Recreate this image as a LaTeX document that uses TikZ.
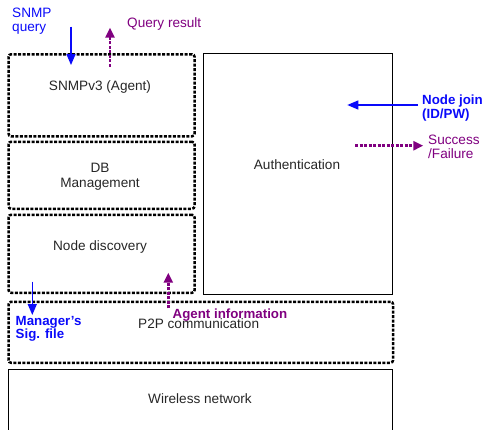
\documentclass[tikz,border=0pt]{standalone}
\usepackage{fontspec}
\setmainfont{Liberation Sans}
\usetikzlibrary{arrows.meta}
\definecolor{qblue}{RGB}{10,10,250}
\definecolor{qpurple}{RGB}{128,0,128}
\begin{document}
\begin{tikzpicture}[x=1pt,y=-1pt,
  layerbox/.style={draw, line width=2.5pt, dash pattern=on 3pt off 1.5pt, rounded corners=2.5pt, inner sep=0pt, anchor=north west},
  solidbox/.style={draw, line width=1.3pt, inner sep=0pt, anchor=north west},
  txt/.style={font=\fontsize{13.6}{15}\selectfont, text=black!85, inner sep=0pt},
  btxt/.style={font=\bfseries\fontsize{13.3}{13.5}\selectfont, inner sep=0pt, align=left},
  ntxt/.style={font=\fontsize{13.6}{14}\selectfont, inner sep=0pt, align=left},
  bluearrow/.style={draw=qblue, line width=1.4pt, -{Triangle[length=11pt,width=9pt]}},
  purplearrow/.style={draw=qpurple, line width=2.5pt, dash pattern=on 3pt off 1.5pt, -{Triangle[length=10pt,width=9pt]}}
]
\useasboundingbox (0,0) rectangle (484,429);

% boxes
\node[layerbox, minimum width=186pt, minimum height=82pt] (snmp) at (7.3,53) {};
\node[layerbox, minimum width=186pt, minimum height=67pt] (db) at (7.3,140.5) {};
\node[layerbox, minimum width=186pt, minimum height=78pt] (nd) at (7.3,213.5) {};
\node[layerbox, minimum width=384.5pt, minimum height=61pt] (p2p) at (7.3,300.5) {};
\node[solidbox, minimum width=189.5pt, minimum height=241.5pt] (auth) at (202.5,52.5) {};
\node[solidbox, minimum width=384pt, minimum height=70pt] (wl) at (8,368.8) {};

% box texts
\node[txt, anchor=base] (snmpt) at (100,90) {SNMPv3 (Agent)};
\node[txt, anchor=base, align=center] (dbt) at (100,187) {DB\\Management};
\node[txt, anchor=base] (ndt) at (100,250) {Node discovery};
\node[txt, anchor=base] (autht) at (297,169) {Authentication};
\node[txt, anchor=base west] (p2pt) at (138,328) {P2P communication};
\node[txt, anchor=base] (wlt) at (200,403) {Wireless network};

% annotations
\node[ntxt, text=qblue, anchor=base west] (sq) at (12,31.5) {SNMP\\query};
\node[ntxt, text=qpurple, anchor=base west] (qr) at (127,27) {Query result};
\node[btxt, text=qblue, anchor=base west] (nj) at (422,118) {Node join\\(ID/PW)};
\node[ntxt, text=qpurple, anchor=base west] (sf) at (428,158) {Success\\/Failure};
\node[btxt, text=qblue, anchor=base west] (ms) at (15.5,338.5) {Manager’s\\Sig. file};
\node[btxt, text=qpurple, anchor=base west] (ai) at (172.5,318) {Agent information};

% arrow endpoints
\coordinate (sqa) at (71,26.7);
\coordinate (sqb) at (71,65);
\coordinate (qra) at (110,66.7);
\coordinate (qrb) at (110,27.7);
\coordinate (nja) at (418,105);
\coordinate (njb) at (347.3,105);
\coordinate (sfa) at (355,145.7);
\coordinate (sfb) at (423.3,145.7);
\coordinate (msa) at (32.3,281.7);
\coordinate (msb) at (32.3,315);
\coordinate (aia) at (168.3,308.3);
\coordinate (aib) at (168.3,272.7);

\draw[bluearrow] (sqa) -- (sqb);
\draw[purplearrow] (qra) -- (qrb);
\draw[bluearrow] (nja) -- (njb);
\draw[purplearrow] (sfa) -- (sfb);
\draw[bluearrow] (msa) -- (msb);
\draw[purplearrow] (aia) -- (aib);
\end{tikzpicture}
\end{document}
